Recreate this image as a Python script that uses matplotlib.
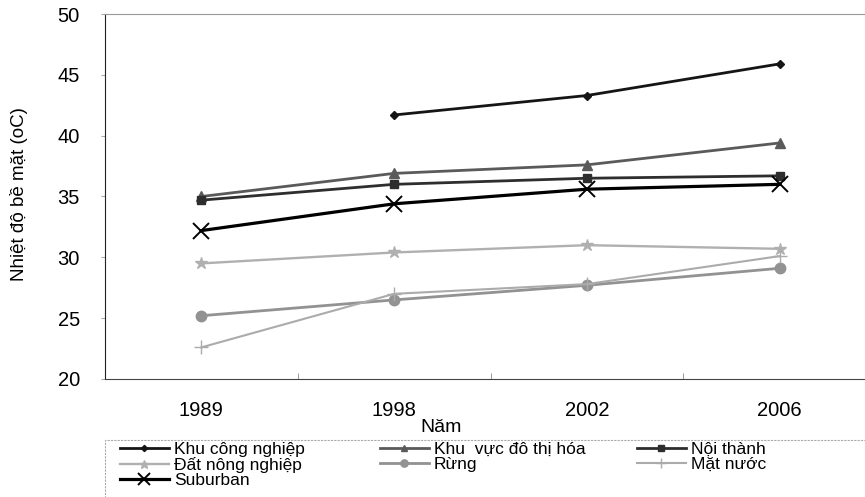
import numpy as np
import matplotlib
matplotlib.use("Agg")
import matplotlib.pyplot as plt
from matplotlib.patches import Rectangle

plt.rcParams['font.family'] = ['Liberation Sans', 'DejaVu Sans']

# du lieu doc tu hinh
nam = ['1989', '1998', '2002', '2006']
khu_cong_nghiep = [np.nan, 41.7, 43.3, 45.9]
khu_do_thi_hoa = [35.0, 36.9, 37.6, 39.4]
noi_thanh = [34.7, 36.0, 36.5, 36.7]
dat_nong_nghiep = [29.5, 30.4, 31.0, 30.7]
rung = [25.2, 26.5, 27.7, 29.1]
mat_nuoc = [22.6, 27.0, 27.8, 30.1]
suburban = [32.2, 34.4, 35.6, 36.0]

W, H = 865, 497
fig = plt.figure(figsize=(W / 100, H / 100), dpi=100)
ax = fig.add_axes([105 / W, 118 / H, 771 / W, 365 / H])

x = np.arange(len(nam))
l1, = ax.plot(x, khu_cong_nghiep, color='#151515', lw=2.0, marker='D', ms=4.5,
              label='Khu công nghiệp')
l2, = ax.plot(x, khu_do_thi_hoa, color='#5a5a5a', lw=2.0, marker='^', ms=6.5,
              label='Khu  vực đô thị hóa')
l3, = ax.plot(x, noi_thanh, color='#2e2e2e', lw=2.0, marker='s', ms=5.5,
              label='Nội thành')
l4, = ax.plot(x, dat_nong_nghiep, color='#b0b0b0', lw=1.7, marker='*', ms=9,
              label='Đất nông nghiệp')
l5, = ax.plot(x, rung, color='#929292', lw=2.0, marker='o', ms=7.5,
              label='Rừng')
l6, = ax.plot(x, mat_nuoc, color='#ababab', lw=1.5, marker='+', ms=10,
              label='Mặt nước')
l7, = ax.plot(x, suburban, color='#000000', lw=2.3, marker='x', ms=12, mew=1.4,
              label='Suburban')

ax.set_xlim(-0.5, 3.5)
ax.set_ylim(20, 50)
ax.set_yticks(range(20, 51, 5))
ax.set_xticks(x)
ax.set_xticklabels(nam)
ax.set_xticks(np.arange(0.5, 3.5, 1), minor=True)
ax.tick_params(axis='x', which='major', length=0, labelsize=14.5, pad=16)
ax.tick_params(axis='x', which='minor', length=4, direction='in', color='#888888')
ax.tick_params(axis='y', labelsize=14.5, length=3, color='#aaaaaa', pad=15)

ax.spines['right'].set_visible(False)
ax.spines['top'].set_color('#999999')
ax.spines['top'].set_linestyle((0, (2, 1)))
ax.spines['left'].set_color('#222222')
ax.spines['bottom'].set_color('#444444')

fig.text(19 / W, 1 - 194 / H, 'Nhiệt độ bề mặt (oC)', rotation=90,
         ha='center', va='center', fontsize=13.5)
fig.text(441 / W, 1 - 428 / H, 'Năm', ha='center', va='center', fontsize=14)

# khung chu giai
fig.patches.append(Rectangle((105 / W, -0.05), 0.9, 1 - 440 / H + 0.05,
                             transform=fig.transFigure, fill=False,
                             edgecolor='#aaaaaa', lw=0.8, ls=(0, (2, 1))))

cols = [([l1, l4, l7], 120), ([l2, l5], 380), ([l3, l6], 637)]
for hs, xc in cols:
    fig.legend(hs, [h.get_label() for h in hs], loc='upper left',
               bbox_to_anchor=(xc / W, 1 - 442 / H), frameon=False,
               fontsize=12.5, handlelength=2.8, handletextpad=0.3,
               labelspacing=0.0, borderpad=0, borderaxespad=0,
               markerscale=0.7)

fig.savefig('out.png', dpi=100)
